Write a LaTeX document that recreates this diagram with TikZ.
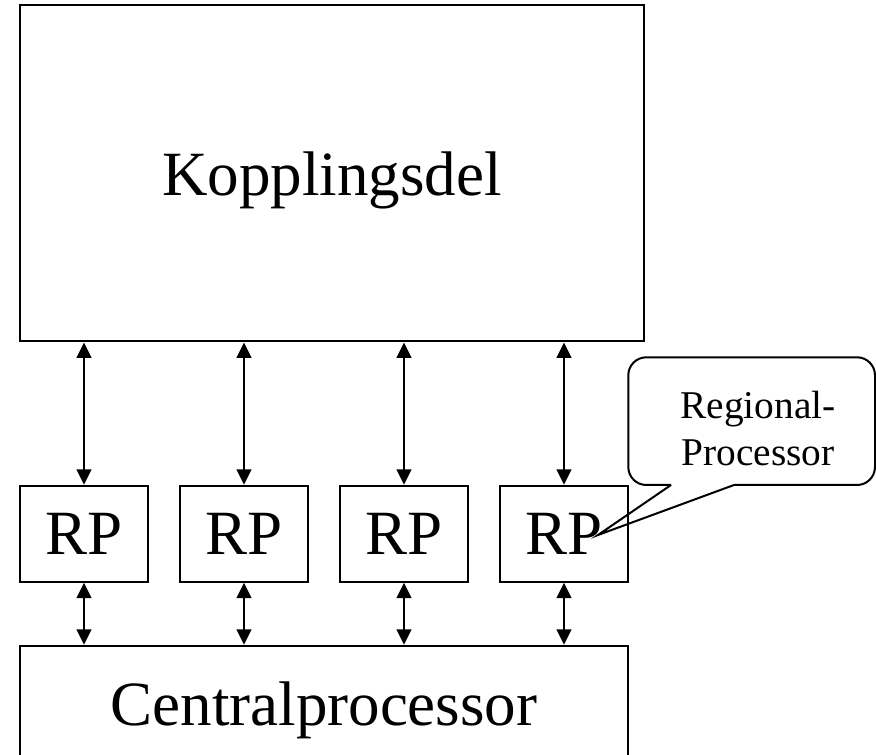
\documentclass[tikz,border=0pt]{standalone}
\usepackage{fontspec}
\setmainfont{Liberation Serif}
\usetikzlibrary{arrows.meta}
\begin{document}
\begin{tikzpicture}
	[x=0.75pt,y=-0.75pt,
	 box/.style={rectangle,draw,line width=1.5pt,inner sep=0pt,text depth=0pt,font=\fontsize{47.25}{56}\selectfont},
	 rp/.style={box,minimum width=96pt,minimum height=72pt},
	 note/.style={align=center,inner sep=0pt,font=\fontsize{29.5}{35.25}\selectfont},
	 >={Triangle[length=11.5pt,width=11pt]}]
    \useasboundingbox (0,0) rectangle (876,755);
    \clip (0,0) rectangle (876,755);

    \node[box,minimum width=468pt,minimum height=252pt] (KD) at (332,173.5) {Kopplingsdel};
    \node[rp] (RP1) at (84,533.7) {RP};
    \node[rp] (RP2) at (244,533.7) {RP};
    \node[rp] (RP3) at (404,533.7) {RP};
    \node[rp] (RP4) at (564,533.7) {RP};
    \node[box,minimum width=456pt,minimum height=86.7pt] (CP) at (324,703.5) {Centralprocessor};

    \draw[line width=1.5pt,<->] (RP1.north |- KD.south) -- (RP1.north);
    \draw[line width=1.5pt,<->] (RP2.north |- KD.south) -- (RP2.north);
    \draw[line width=1.5pt,<->] (RP3.north |- KD.south) -- (RP3.north);
    \draw[line width=1.5pt,<->] (RP4.north |- KD.south) -- (RP4.north);
    \draw[line width=1.5pt,<->] (RP1.south) -- (RP1.south |- CP.north);
    \draw[line width=1.5pt,<->] (RP2.south) -- (RP2.south |- CP.north);
    \draw[line width=1.5pt,<->] (RP3.south) -- (RP3.south |- CP.north);
    \draw[line width=1.5pt,<->] (RP4.south) -- (RP4.south |- CP.north);

    % callout
    \node[note] (RPnote) at (758,429) {Regional-\\Processor};
    \coordinate (tip) at (598,535);
    \draw[line width=1.5pt,rounded corners=13.5pt] (734,485) -- (875,485) -- (875,357.3) -- (628.3,357.3) -- (628.3,485) -- (671,485);
    \draw[line width=1.5pt] (671,485) -- (tip) -- (734,485);

\end{tikzpicture}
\end{document}
